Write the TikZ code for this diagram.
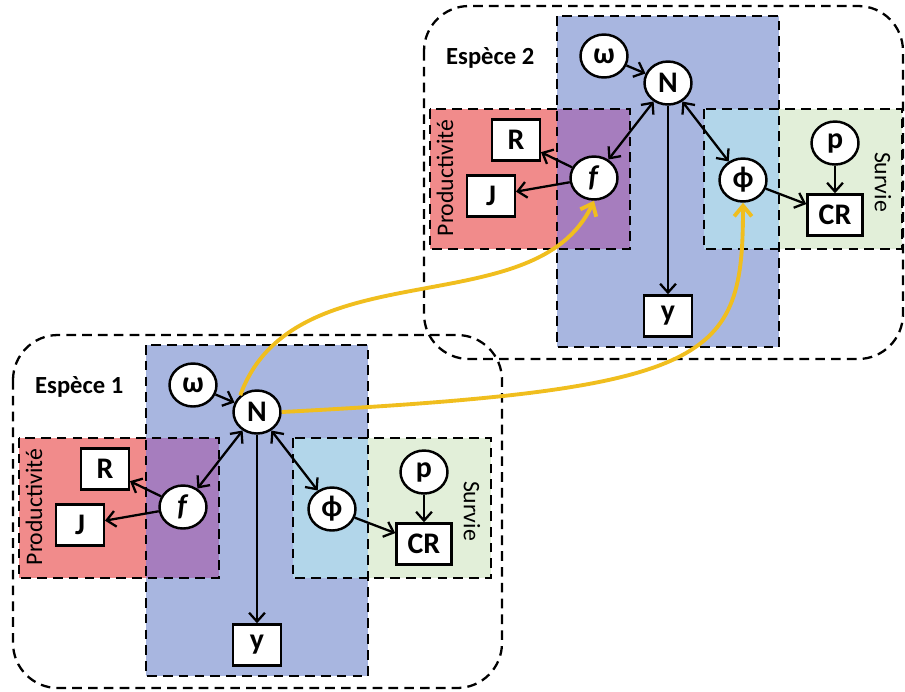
\documentclass[tikz,border=0pt]{standalone}
\usepackage{fontspec}
\setmainfont{Carlito}
\usetikzlibrary{arrows.meta, positioning}
\usetikzlibrary{shapes.geometric}

\definecolor{bleuN}{RGB}{168,182,224}
\definecolor{rougeP}{RGB}{241,139,139}
\definecolor{violetP}{RGB}{166,125,190}
\definecolor{vertS}{RGB}{226,239,217}
\definecolor{cielS}{RGB}{178,214,234}
\definecolor{jaune}{RGB}{240,190,30}

\begin{document}
\begin{tikzpicture}[
    x=0.02cm, y=-0.02cm, % one unit = one pixel of the sketch, y going down
    latent/.style={ellipse, draw, line width=1.4pt, fill=white, minimum width=0.94cm, minimum height=0.86cm, inner sep=0pt, font=\fontsize{17}{17}\selectfont\bfseries}, % hidden states
    obs/.style={rectangle, draw, line width=1.4pt, fill=white, minimum width=0.95cm, minimum height=0.82cm, inner sep=2pt, font=\fontsize{17}{17}\selectfont\bfseries}, % observed data
    zone/.style={draw, line width=1.3pt, dash pattern=on 5.5pt off 3.5pt},
    espece/.style={zone, rounded corners=0.9cm},
    fleche/.style={-{Straight Barb[length=5pt, width=9pt]}, line width=1.3pt},
    echange/.style={{Straight Barb[length=5pt, width=9pt]}-{Straight Barb[length=5pt, width=9pt]}, line width=1.3pt},
    lien/.style={-{Straight Barb[length=6pt, width=10pt]}, line width=2.2pt, draw=jaune}, % links between the two species
    titre/.style={font=\fontsize{14}{14}\selectfont\bfseries},
    zonetitre/.style={font=\fontsize{13.5}{13.5}\selectfont}
]
\useasboundingbox (0,0) rectangle (905,691);

\foreach \e/\dx/\dy/\r in {1/257/412/245, 2/668/83/235} {
\begin{scope}[shift={(\dx,\dy)}, name prefix=e\e-]
% Zones: productivity (red), abundance (blue), survival (green)
\fill[rougeP] (-238,26) rectangle (-38,166);
\fill[vertS] (36,26) rectangle (234,166);
\fill[bleuN] (-111,-67) rectangle (111,264);
\fill[violetP] (-111,26) rectangle (-38,166);
\fill[cielS] (36,26) rectangle (111,166);
\draw[zone] (-111,-67) rectangle (111,264);
\draw[zone] (-238,26) rectangle (-38,166);
\draw[zone] (36,26) rectangle (234,166);
\draw[espece] (-244,-77) rectangle (\r,276);

% Labels
\node[titre, anchor=west] (titre) at (-228,-25) {Espèce \e};
\node[zonetitre, rotate=90] (prod) at (-223,95) {Productivité};
\node[zonetitre, rotate=-90] (surv) at (215,99) {Survie};

% States and data
\node[latent] (N) at (0,0) {N};
\node[latent] (omega) at (-64,-27) {ω};
\node[latent] (f) at (-74,95) {\textit{f}};
\node[latent] (phi) at (75,97) {ϕ};
\node[obs] (R) at (-152,57) {R};
\node[obs] (J) at (-177,113) {J};
\node[obs, minimum width=1.1cm] (CR) at (167,132) {CR};
\node[latent, above of=CR, node distance=1.44cm] (p) {p};
\node[obs, below of=N, node distance=4.66cm] (y) {y};

% Arrows
\draw[fleche] (omega) -- (N);
\draw[echange] (N) -- (f);
\draw[echange] (N) -- (phi);
\draw[fleche] (N) -- (y);
\draw[fleche] (f) -- (R);
\draw[fleche] (f) -- (J);
\draw[fleche] (phi) -- (CR);
\draw[fleche] (p) -- (CR);
\end{scope}
}

% Species 1 abundance feeds species 2
\draw[lien] (e1-N.135) to[out=70, in=-115, in looseness=0.88] (e2-f.south);
\draw[lien] (e1-N.east) to[out=3, in=-90, out looseness=2.2, in looseness=0.8] (e2-phi.south);

\end{tikzpicture}
\end{document}
